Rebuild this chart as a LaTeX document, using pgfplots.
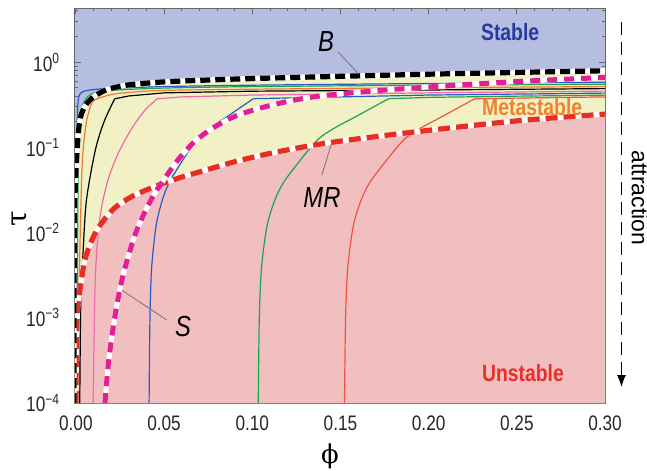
\documentclass[border=0pt]{standalone}
\usepackage{fontspec}
\setmainfont{Liberation Sans}
\newfontfamily\grk{DejaVu Serif}
\usepackage{graphicx}
\usepackage{pgfplots}
\usepackage{pgfplotstable}
\pgfplotsset{compat=1.18}
\usetikzlibrary{arrows.meta}

\definecolor{stableblue}{RGB}{181,189,224}
\definecolor{metayellow}{RGB}{242,241,197}
\definecolor{unstred}{RGB}{242,191,192}
\definecolor{txtblue}{RGB}{40,58,160}
\definecolor{txtorange}{RGB}{240,130,45}
\definecolor{txtred}{RGB}{232,48,40}
\definecolor{cblue}{RGB}{40,90,200}
\definecolor{cgreen}{RGB}{25,165,80}
\definecolor{corange}{RGB}{242,120,50}
\definecolor{cpink}{RGB}{240,105,170}
\definecolor{cred}{RGB}{240,85,60}
\definecolor{cmag}{RGB}{228,30,150}
\definecolor{cMR}{RGB}{232,45,35}

\newcommand{\sq}[1]{\scalebox{0.82}[1]{#1}}

% ---- data ----
\pgfplotstableread{
x y
-0.0011 1e-4
-0.0009 0.01
-0.0003 0.035
0.0002 0.06
0.0008 0.10
0.0014 0.15
0.002 0.19
0.003 0.24
0.005 0.30
0.0075 0.35
0.01 0.39
0.015 0.45
0.02 0.49
0.03 0.54
0.05 0.585
0.075 0.615
0.10 0.64
0.15 0.68
0.20 0.72
0.25 0.755
0.30 0.79
}\Bdat
\pgfplotstableread{
x y
-0.0011 1e-4
-0.0009 0.01
-0.0003 0.035
0.0002 0.06
0.0008 0.10
0.0014 0.15
0.002 0.19
0.003 0.24
0.005 0.30
0.0075 0.35
0.01 0.39
0.015 0.45
0.02 0.49
0.03 0.54
0.05 0.585
0.075 0.615
0.10 0.64
0.15 0.68
0.20 0.72
0.25 0.755
0.30 0.79
0.30 1e-4
}\Bfill
\pgfplotstableread{
x y
0.0165 1e-4
0.0185 3e-4
0.022 1e-3
0.0265 3e-3
0.034 0.01
0.043 0.025
0.051 0.045
0.059 0.076
0.068 0.12
0.078 0.17
0.09 0.23
0.105 0.29
0.123 0.355
0.14 0.403
0.17 0.46
0.20 0.51
0.25 0.59
0.30 0.66
}\Sdat
\pgfplotstableread{
x y
0.0 1e-4
0.0002 3.0e-4
0.0005 7.1e-4
0.001 1.29e-3
0.0023 2.09e-3
0.005 4.68e-3
0.0085 7.6e-3
0.0117 0.0105
0.016 0.0141
0.021 0.0186
0.026 0.0224
0.032 0.0266
0.04 0.0316
0.048 0.0367
0.06 0.0447
0.07 0.0513
0.089 0.0668
0.105 0.0804
0.12 0.0933
0.144 0.1135
0.188 0.148
0.25 0.204
0.30 0.245
}\MRdat
\pgfplotstableread{
x y
0.0 1e-4
0.0002 3.0e-4
0.0005 7.1e-4
0.001 1.29e-3
0.0023 2.09e-3
0.005 4.68e-3
0.0085 7.6e-3
0.0117 0.0105
0.016 0.0141
0.021 0.0186
0.026 0.0224
0.032 0.0266
0.04 0.0316
0.048 0.0367
0.06 0.0447
0.07 0.0513
0.089 0.0668
0.105 0.0804
0.12 0.0933
0.144 0.1135
0.188 0.148
0.25 0.204
0.30 0.245
0.30 1e-4
}\MRfill
\pgfplotstableread{
x y
0.0003 1e-4
0.0004 0.01
0.0006 0.1
0.0009 0.25
0.0013 0.35
0.002 0.41
0.004 0.45
0.01 0.475
0.02 0.49
0.05 0.515
0.10 0.535
0.20 0.56
0.30 0.58
}\blueA
\pgfplotstableread{
x y
0.0008 1e-4
0.001 0.01
0.0016 0.1
0.0028 0.25
0.0045 0.34
0.006 0.38
0.01 0.43
0.02 0.465
0.05 0.495
0.10 0.515
0.20 0.535
0.30 0.55
}\greenA
\pgfplotstableread{
x y
0.0015 1e-4
0.002 3e-3
0.0032 0.038
0.0041 0.092
0.006 0.2
0.009 0.33
0.012 0.37
0.02 0.415
0.03 0.44
0.05 0.465
0.10 0.48
0.20 0.50
0.30 0.515
}\orangeA
\pgfplotstableread{
x y
0.0022 1e-4
0.0028 0.0016
0.0041 0.006
0.006 0.024
0.011 0.092
0.016 0.2
0.022 0.37
0.03 0.40
0.05 0.435
0.10 0.455
0.20 0.47
0.30 0.488
}\blackA
\pgfplotstableread{
x y
0.0098 1e-4
0.0105 1e-3
0.0113 0.004
0.0136 0.015
0.018 0.04
0.024 0.085
0.032 0.17
0.039 0.27
0.046 0.37
0.06 0.39
0.10 0.41
0.20 0.435
0.30 0.456
}\pinkA
\pgfplotstableread{
x y
0.0415 1e-4
0.042 1e-3
0.043 3.98e-3
0.0455 0.0120
0.049 0.0240
0.053 0.0389
0.060 0.0676
0.066 0.1047
0.0703 0.1349
0.077 0.1738
0.085 0.2239
0.1006 0.3715
0.15 0.39
0.20 0.41
0.30 0.432
}\blueB
\pgfplotstableread{
x y
0.1034 1e-4
0.1040 1e-3
0.1053 3.98e-3
0.1084 0.0120
0.1128 0.0240
0.1178 0.0389
0.1265 0.0676
0.1340 0.1047
0.1394 0.1349
0.1478 0.1738
0.1578 0.2239
0.1773 0.3715
0.20 0.385
0.25 0.398
0.30 0.409
}\greenB
\pgfplotstableread{
x y
0.1523 1e-4
0.1529 1e-3
0.1542 3.98e-3
0.1573 0.0120
0.1617 0.0240
0.1667 0.0389
0.1754 0.0676
0.1829 0.1047
0.1883 0.1349
0.1967 0.1738
0.2067 0.2239
0.2262 0.3715
0.26 0.38
0.30 0.39
}\redB

\begin{document}
\begin{tikzpicture}
\begin{axis}[
  scale only axis, width=265pt, height=197.5pt,
  ymode=log, xmin=-0.0005, xmax=0.30, ymin=1e-4, ymax=4.3,
  axis background/.style={fill=stableblue},
  no markers,
  xtick={0,0.05,0.10,0.15,0.20,0.25,0.30},
  xticklabels={\sq{0.00},\sq{0.05},\sq{0.10},\sq{0.15},\sq{0.20},\sq{0.25},\sq{0.30}},
  minor x tick num=4,
  ytick={1e-4,1e-3,1e-2,1e-1,1},
  yticklabels={\sq{10\textsuperscript{−4}},\sq{10\textsuperscript{−3}},\sq{10\textsuperscript{−2}},\sq{10\textsuperscript{−1}},\sq{10\textsuperscript{0}}},
  minor ytick={2e-4,3e-4,4e-4,5e-4,6e-4,7e-4,8e-4,9e-4,2e-3,3e-3,4e-3,5e-3,6e-3,7e-3,8e-3,9e-3,2e-2,3e-2,4e-2,5e-2,6e-2,7e-2,8e-2,9e-2,0.2,0.3,0.4,0.5,0.6,0.7,0.8,0.9,2,3,4},
  tick label style={font=\fontsize{10.5}{12}\selectfont, text=black!85},
  xticklabel style={yshift=-3pt},
  yticklabel style={xshift=-4pt},
  axis line style={draw=black!60, line width=0.5pt},
  major tick length=3pt, minor tick length=1.6pt,
  every tick/.style={black!60, line width=0.4pt},
  xlabel={{\grk ϕ}}, ylabel={{\grk τ}},
  xlabel style={font=\fontsize{13}{15}\selectfont, at={(rel axis cs:0.481,-0.134)}, anchor=center},
  ylabel style={font=\fontsize{14}{16}\selectfont, at={(rel axis cs:-0.105,0.467)}, anchor=center},
]
% region fills
\addplot[draw=none, fill=metayellow] table {\Bfill};
\addplot[draw=none, fill=unstred] table {\MRfill};
% thin curves: smooth rising part, straight part after the kink
\addplot[cblue, line width=0.6pt, smooth, tension=0.5] table {\blueA};
\addplot[cgreen, line width=0.6pt, smooth, tension=0.5] table {\greenA};
\addplot[corange, line width=0.6pt, smooth, tension=0.5] table {\orangeA};
\addplot[black, line width=0.6pt, smooth, tension=0.5, restrict x to domain=-1:0.02201] table {\blackA};
\addplot[black, line width=0.6pt, restrict x to domain=0.02199:1] table {\blackA};
\addplot[cpink, line width=0.6pt, smooth, tension=0.5, restrict x to domain=-1:0.04601] table {\pinkA};
\addplot[cpink, line width=0.6pt, restrict x to domain=0.04599:1] table {\pinkA};
\addplot[cblue, line width=0.6pt, smooth, tension=0.5, restrict x to domain=-1:0.10061] table {\blueB};
\addplot[cblue, line width=0.6pt, restrict x to domain=0.10059:1] table {\blueB};
\addplot[cgreen, line width=0.6pt, smooth, tension=0.5, restrict x to domain=-1:0.17731] table {\greenB};
\addplot[cgreen, line width=0.6pt, restrict x to domain=0.17729:1] table {\greenB};
\addplot[cred, line width=0.6pt, smooth, tension=0.5, restrict x to domain=-1:0.22621] table {\redB};
\addplot[cred, line width=0.6pt, restrict x to domain=0.22619:1] table {\redB};
% thick dashed curves
\addplot[white, line width=2.6pt, smooth, tension=0.5] table {\MRdat};
\addplot[cMR, line width=2.6pt, smooth, tension=0.5, dash pattern=on 6pt off 3pt] table {\MRdat};
\addplot[white, line width=2.5pt, smooth, tension=0.5] table {\Sdat};
\addplot[cmag, line width=2.5pt, smooth, tension=0.5, dash pattern=on 5pt off 3.5pt] table {\Sdat};
\addplot[white, line width=2.6pt, smooth, tension=0.5] table {\Bdat};
\addplot[black, line width=2.6pt, smooth, tension=0.5, dash pattern=on 5pt off 2.5pt] table {\Bdat};
% annotations
\draw[black!55, line width=0.4pt] (axis cs:0.1486,1.31) -- (axis cs:0.1605,0.72);
\draw[black!55, line width=0.4pt] (axis cs:0.0516,9.4e-4) -- (axis cs:0.0262,2.1e-3);
\draw[black!55, line width=0.4pt] (axis cs:0.1394,0.047) -- (axis cs:0.145,0.112);
\node[font=\fontsize{14.5}{16}\selectfont\itshape] at (axis cs:0.1418,1.72) {\sq{B}};
\node[font=\fontsize{14.5}{16}\selectfont\itshape] at (axis cs:0.0607,7.8e-4) {\sq{S}};
\node[font=\fontsize{14.5}{16}\selectfont\itshape] at (axis cs:0.1395,0.026) {\sq{MR}};
\node[font=\fontsize{11.8}{14}\selectfont\bfseries, text=txtblue] at (axis cs:0.2462,2.25) {\sq{Stable}};
\node[font=\fontsize{11.8}{14}\selectfont\bfseries, text=txtorange] at (axis cs:0.2587,0.297) {\sq{Metastable}};
\node[font=\fontsize{11.8}{14}\selectfont\bfseries, text=txtred] at (axis cs:0.2535,2.25e-4) {\sq{Unstable}};
\coordinate (arrtop) at (rel axis cs:1.031,0.9646);
\coordinate (arrbot) at (rel axis cs:1.031,0.0405);
\coordinate (attr) at (rel axis cs:1.066,0.519);
\coordinate (bbsw) at (rel axis cs:-0.1415,-0.1696);
\coordinate (bbne) at (rel axis cs:1.0792,1.0203);
\end{axis}
% outside: attraction arrow
\draw[black, line width=0.6pt, dash pattern=on 6.5pt off 3.5pt, -{Latex[length=6pt,width=4.5pt]}] (arrtop) -- (arrbot);
\node[rotate=-90, font=\fontsize{11.5}{13}\selectfont] at (attr) {attraction};
\pgfresetboundingbox
\path[use as bounding box] (bbsw) rectangle (bbne);
\end{tikzpicture}
\end{document}
